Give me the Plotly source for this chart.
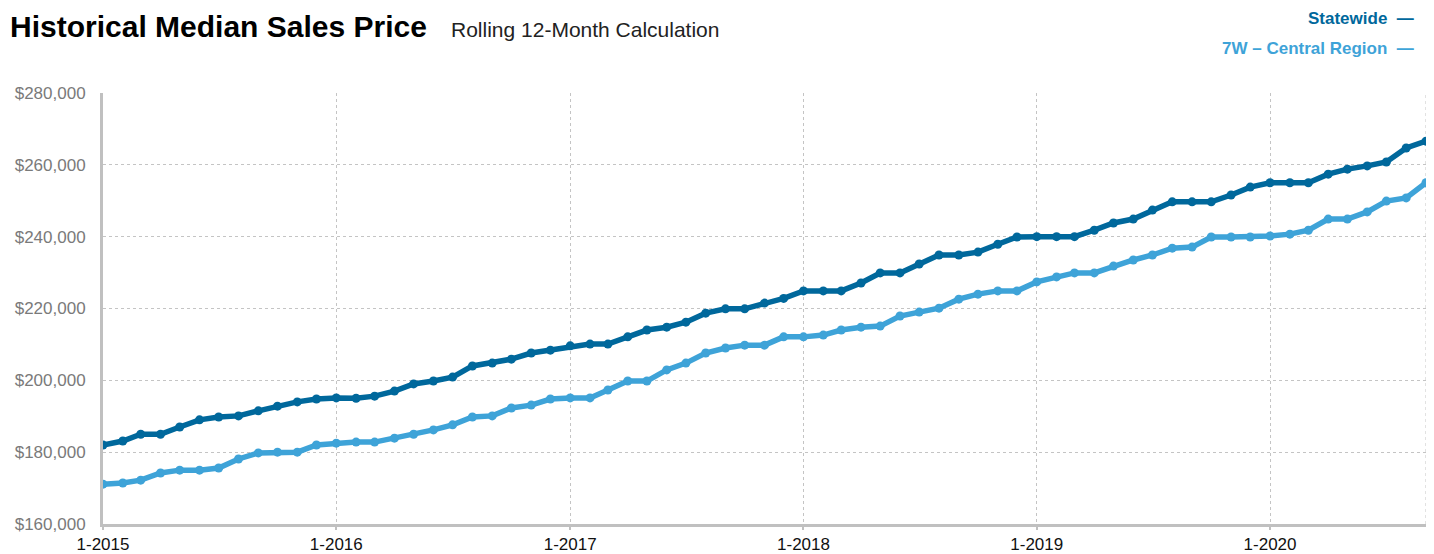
import pandas as pd
import plotly.graph_objects as go

months = pd.date_range("2015-01-01", periods=69, freq="MS")

statewide = [
    182000, 183100, 185000, 185000, 187000, 189000, 189800, 190100, 191500, 192800,
    194000, 194800, 195100, 195000, 195600, 197000, 199000, 199800, 200900, 204000,
    204800, 205900, 207600, 208400, 209600, 210100, 210100, 212100, 214000, 214800,
    216200, 218700, 219900, 219900, 221500, 222800, 224900, 224900, 224900, 227100,
    229900, 229900, 232400, 234900, 234900, 235700, 237900, 239900, 240000, 240000,
    240000, 241800, 243800, 244900, 247400, 249700, 249700, 249700, 251600, 253800,
    255000, 255000, 255000, 257400, 258800, 259700, 260800, 264700, 266600,
]

central = [
    171100, 171400, 172200, 174200, 175000, 175000, 175600, 178100, 179800, 180000,
    180000, 182000, 182500, 182800, 182800, 183900, 185000, 186200, 187600, 189800,
    190100, 192300, 193100, 194800, 195100, 195100, 197300, 199800, 199800, 202900,
    204800, 207600, 209000, 209800, 209800, 212100, 212100, 212600, 214000, 214800,
    215100, 217900, 219000, 220100, 222600, 224000, 224900, 224900, 227400, 228800,
    229900, 229900, 231800, 233500, 234900, 236800, 237100, 239900, 239900, 239900,
    240200, 240700, 241800, 244900, 244900, 246900, 249900, 250800, 255000,
]

year_ticks = pd.date_range("2015-01-01", "2020-01-01", freq="YS")
year_labels = ["1-2015", "1-2016", "1-2017", "1-2018", "1-2019", "1-2020"]
y_ticks = [160000, 180000, 200000, 220000, 240000, 260000, 280000]

DARK = "#00689C"
LIGHT = "#3EA3D8"

# screen-pixel helpers (page has an 8px body margin)
PL, PR, PT, PB = 101, 1424, 93, 524
def px(sx):
    return (sx - PL) / (PR - PL)
def py(sy):
    return (PB - sy) / (PB - PT)

fig = go.Figure()
fig.add_trace(go.Scatter(
    x=months, y=central, mode="lines+markers", name="7W – Central Region",
    line=dict(color=LIGHT, width=5.5), marker=dict(color=LIGHT, size=9),
))
fig.add_trace(go.Scatter(
    x=months, y=statewide, mode="lines+markers", name="Statewide",
    line=dict(color=DARK, width=5.5), marker=dict(color=DARK, size=9),
))

fig.update_layout(
    width=1426, height=546,
    margin=dict(l=95, r=8, t=85, b=30),
    paper_bgcolor="white", plot_bgcolor="white",
    showlegend=False,
    font=dict(family="Liberation Sans, Arial, sans-serif"),
)

fig.update_xaxes(
    range=[months[0], months[-1]],
    tickvals=list(year_ticks), ticktext=year_labels,
    showgrid=True, gridcolor="#c4c4c4", griddash="dot", gridwidth=1,
    showline=True, linecolor="#c0c0c0", linewidth=3,
    ticks="outside", ticklen=3, tickcolor="#c0c0c0", tickwidth=2,
    tickfont=dict(size=17, color="#111111"),
    zeroline=False, automargin=False,
)
fig.update_yaxes(
    range=[160000, 280000],
    tickvals=y_ticks, tickformat="$,.0f",
    showgrid=True, gridcolor="#c4c4c4", griddash="dot", gridwidth=1,
    showline=True, linecolor="#c0c0c0", linewidth=3,
    tickfont=dict(size=17, color="#7a7a7a"),
    ticklabelstandoff=11,
    zeroline=False, automargin=False,
)

# right edge dotted line
fig.add_shape(type="line", xref="x", yref="paper", x0=months[-1], x1=months[-1],
              y0=0, y1=1, line=dict(color="#c4c4c4", width=1, dash="dot"), layer="below")

fig.add_annotation(
    xref="paper", yref="paper", x=px(6), y=py(8),
    xanchor="left", yanchor="top", showarrow=False,
    text="<b>Historical Median Sales Price</b>",
    font=dict(family="Liberation Sans Narrow, Arial Narrow, sans-serif", size=30, color="#000000"),
)
fig.add_annotation(
    xref="paper", yref="paper", x=px(447), y=py(8),
    xanchor="left", yanchor="top", showarrow=False,
    text="Rolling 12-Month Calculation",
    font=dict(family="Liberation Sans Narrow, Arial Narrow, sans-serif", size=21, color="#222222"),
    yshift=-8,
)
fig.add_annotation(
    xref="paper", yref="paper", x=px(1414), y=py(18),
    xanchor="right", yanchor="middle", showarrow=False,
    text="<b>Statewide  —</b>",
    font=dict(family="Liberation Sans, Arial, sans-serif", size=17, color=DARK),
)
fig.add_annotation(
    xref="paper", yref="paper", x=px(1414), y=py(48),
    xanchor="right", yanchor="middle", showarrow=False,
    text="<b>7W – Central Region  —</b>",
    font=dict(family="Liberation Sans, Arial, sans-serif", size=17, color=LIGHT),
)

fig.write_html("out.html")
